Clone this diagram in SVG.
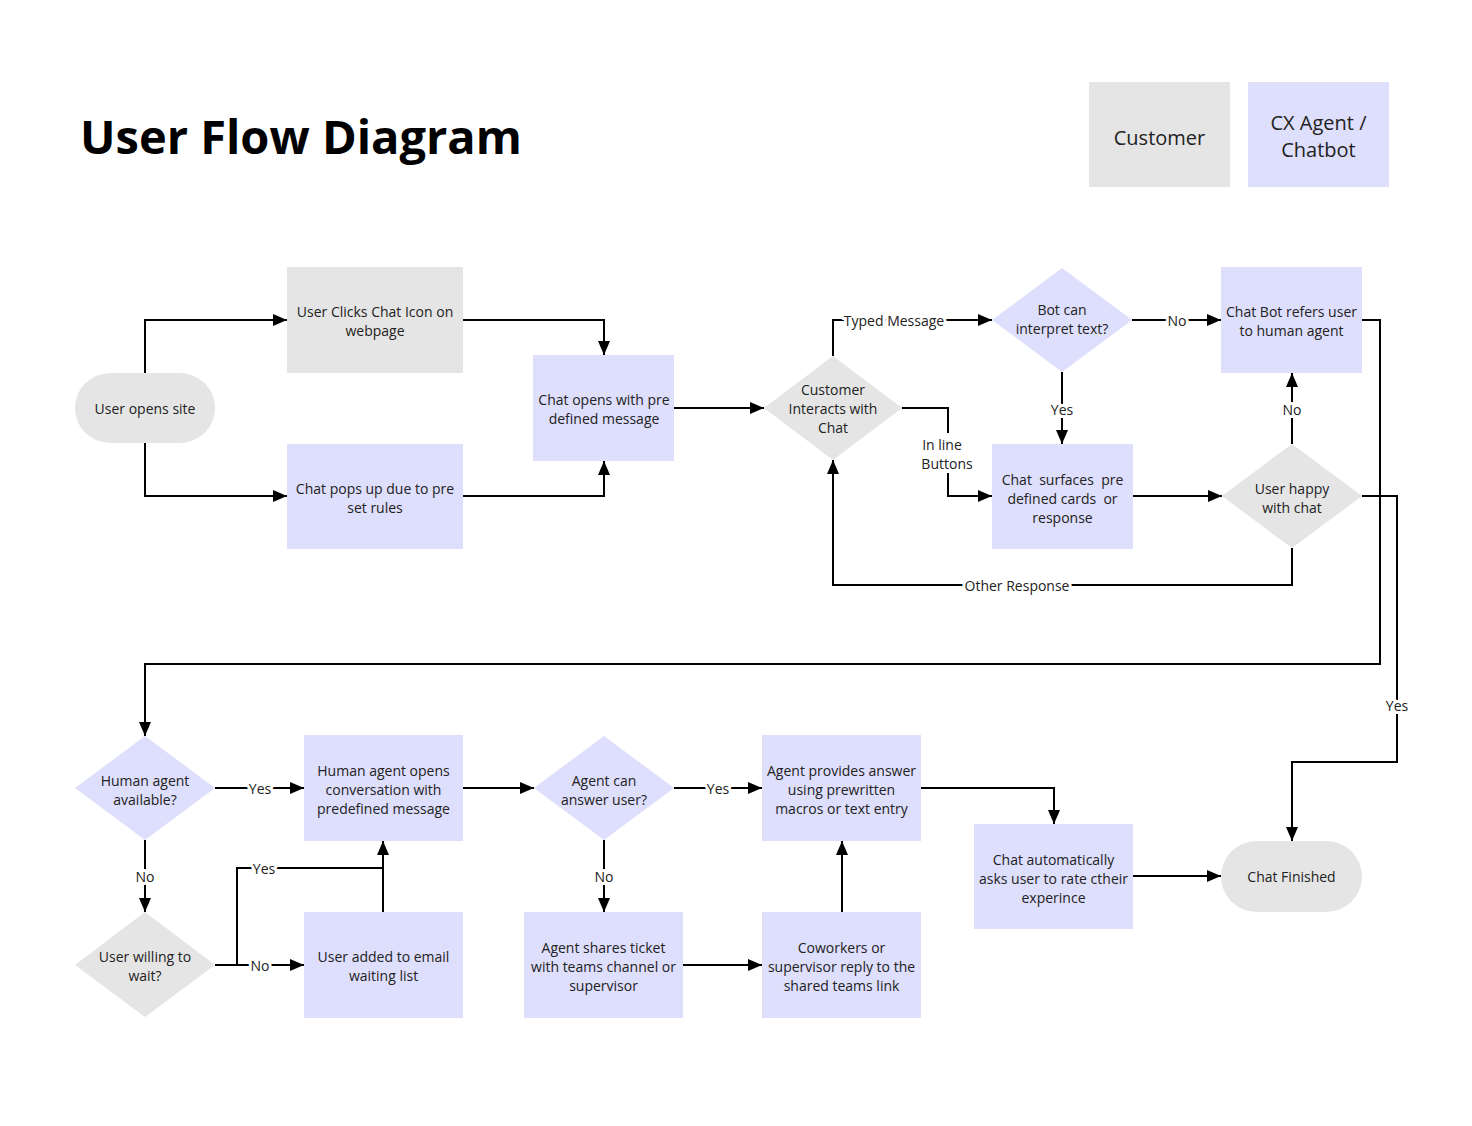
<svg xmlns="http://www.w3.org/2000/svg" width="1472" height="1126" viewBox="0 0 1472 1126">
<style>
text{font-family:"Open Sans","Noto Sans","Liberation Sans",sans-serif;font-size:14px;fill:#222;text-anchor:middle;dominant-baseline:central}
.title{font-size:47px;font-weight:bold;fill:#000;text-anchor:start}
.leg{font-size:20px}
.c{fill:#e5e5e5}
.a{fill:#dedefd}
.e{fill:none;stroke:#000;stroke-width:2;marker-end:url(#ah)}
.n{fill:none;stroke:#000;stroke-width:2}
.lb{stroke:#fff;stroke-width:6;paint-order:stroke;stroke-linejoin:round}
</style>
<defs>
<marker id="ah" markerUnits="userSpaceOnUse" markerWidth="14" markerHeight="12" refX="14" refY="6" orient="auto">
<path d="M0,0 L14,6 L0,12 z" fill="#000"/>
</marker>
</defs>
<rect width="1472" height="1126" fill="#fff"/>
<text class="title" x="80" y="136">User Flow Diagram</text>
<g id="legend-customer"><rect class="c" x="1089" y="82" width="141" height="105"/><text class="leg" x="1159.5" y="137">Customer</text></g>
<g id="legend-agent"><rect class="a" x="1248" y="82" width="141" height="105"/><text class="leg" x="1318.5" y="122">CX Agent /</text><text class="leg" x="1318.5" y="149">Chatbot</text></g>

<g id="connectors">
<path class="e" d="M145,373 V320 H287"/>
<path class="e" d="M145,443 V496 H287"/>
<path class="e" d="M463,320 H604 V355"/>
<path class="e" d="M463,496 H604 V461"/>
<path class="e" d="M674,408 H764"/>
<path class="e" d="M833,356 V320 H992"/>
<path class="e" d="M902,408 H948 V496 H992"/>
<path class="e" d="M1062,372 V444"/>
<path class="e" d="M1132,320 H1221"/>
<path class="e" d="M1133,496 H1222"/>
<path class="e" d="M1292,444 V373"/>
<path class="e" d="M1292,548 V585 H833 V460"/>
<path class="e" d="M1362,496 H1397 V762 H1292 V841"/>
<path class="e" d="M1362,320 H1380 V664 H145 V736"/>
<path class="e" d="M215,788 H304"/>
<path class="e" d="M145,840 V912"/>
<path class="e" d="M215,965 H304"/>
<path class="n" d="M237,965 V868 H383"/>
<path class="e" d="M383,912 V841"/>
<path class="e" d="M463,788 H534"/>
<path class="e" d="M674,788 H762"/>
<path class="e" d="M604,840 V912"/>
<path class="e" d="M683,965 H762"/>
<path class="e" d="M842,912 V841"/>
<path class="e" d="M921,788 H1054 V824"/>
<path class="e" d="M1133,876 H1221"/>
<text class="lb" x="894" y="320">Typed Message</text>
<rect x="918" y="433" width="60" height="40" fill="#fff"/>
<text x="942" y="444">In line</text>
<text x="947" y="463">Buttons</text>
<text class="lb" x="1062" y="409">Yes</text>
<text class="lb" x="1177" y="320">No</text>
<text class="lb" x="1292" y="409">No</text>
<text class="lb" x="1017" y="585">Other Response</text>
<text class="lb" x="1397" y="705">Yes</text>
<text class="lb" x="260" y="788">Yes</text>
<text class="lb" x="145" y="876">No</text>
<text class="lb" x="260" y="965">No</text>
<text class="lb" x="264" y="868">Yes</text>
<text class="lb" x="718" y="788">Yes</text>
<text class="lb" x="604" y="876">No</text>
</g>

<g id="user-opens-site"><rect class="c" x="75" y="373" width="140" height="70" rx="35"/><text x="145" y="408">User opens site</text></g>
<g id="user-clicks-chat"><rect class="c" x="287" y="267" width="176" height="106"/><text x="375" y="311">User Clicks Chat Icon on</text><text x="375" y="330">webpage</text></g>
<g id="chat-pops-up"><rect class="a" x="287" y="444" width="176" height="105"/><text x="375" y="488">Chat pops up due to pre</text><text x="375" y="507">set rules</text></g>
<g id="chat-opens"><rect class="a" x="533" y="355" width="141" height="106"/><text x="604" y="399">Chat opens with pre</text><text x="604" y="418">defined message</text></g>
<g id="customer-interacts"><polygon class="c" points="833,356 902,408 833,460 764,408"/><text x="833" y="389">Customer</text><text x="833" y="408">Interacts with</text><text x="833" y="427">Chat</text></g>
<g id="bot-interpret"><polygon class="a" points="1062,268 1132,320 1062,372 992,320"/><text x="1062" y="309">Bot can</text><text x="1062" y="328">interpret text?</text></g>
<g id="bot-refers"><rect class="a" x="1221" y="267" width="141" height="106"/><text x="1291.5" y="311">Chat Bot refers user</text><text x="1291.5" y="330">to human agent</text></g>
<g id="chat-surfaces"><rect class="a" x="992" y="444" width="141" height="105"/><text x="1062.5" y="479" xml:space="preserve">Chat  surfaces  pre</text><text x="1062.5" y="498" xml:space="preserve">defined cards  or</text><text x="1062.5" y="517">response</text></g>
<g id="user-happy"><polygon class="c" points="1292,444 1362,496 1292,548 1222,496"/><text x="1292" y="488">User happy</text><text x="1292" y="507">with chat</text></g>
<g id="human-available"><polygon class="a" points="145,736 215,788 145,840 75,788"/><text x="145" y="780">Human agent</text><text x="145" y="799">available?</text></g>
<g id="human-opens"><rect class="a" x="304" y="735" width="159" height="106"/><text x="383.5" y="770">Human agent opens</text><text x="383.5" y="789">conversation with</text><text x="383.5" y="808">predefined message</text></g>
<g id="agent-can-answer"><polygon class="a" points="604,736 674,788 604,840 534,788"/><text x="604" y="780">Agent can</text><text x="604" y="799">answer user?</text></g>
<g id="agent-provides"><rect class="a" x="762" y="735" width="159" height="106"/><text x="841.5" y="770">Agent provides answer</text><text x="841.5" y="789">using prewritten</text><text x="841.5" y="808">macros or text entry</text></g>
<g id="user-willing"><polygon class="c" points="145,912 215,965 145,1017 75,965"/><text x="145" y="956">User willing to</text><text x="145" y="975">wait?</text></g>
<g id="email-list"><rect class="a" x="304" y="912" width="159" height="106"/><text x="383.5" y="956">User added to email</text><text x="383.5" y="975">waiting list</text></g>
<g id="agent-shares"><rect class="a" x="524" y="912" width="159" height="106"/><text x="603.5" y="947">Agent shares ticket</text><text x="603.5" y="966">with teams channel or</text><text x="603.5" y="985">supervisor</text></g>
<g id="coworkers"><rect class="a" x="762" y="912" width="159" height="106"/><text x="841.5" y="947">Coworkers or</text><text x="841.5" y="966">supervisor reply to the</text><text x="841.5" y="985">shared teams link</text></g>
<g id="chat-rate"><rect class="a" x="974" y="824" width="159" height="105"/><text x="1053.5" y="859">Chat automatically</text><text x="1053.5" y="878">asks user to rate ctheir</text><text x="1053.5" y="897">experince</text></g>
<g id="chat-finished"><rect class="c" x="1221" y="841" width="141" height="71" rx="35.5"/><text x="1291.5" y="876.5">Chat Finished</text></g>
</svg>
